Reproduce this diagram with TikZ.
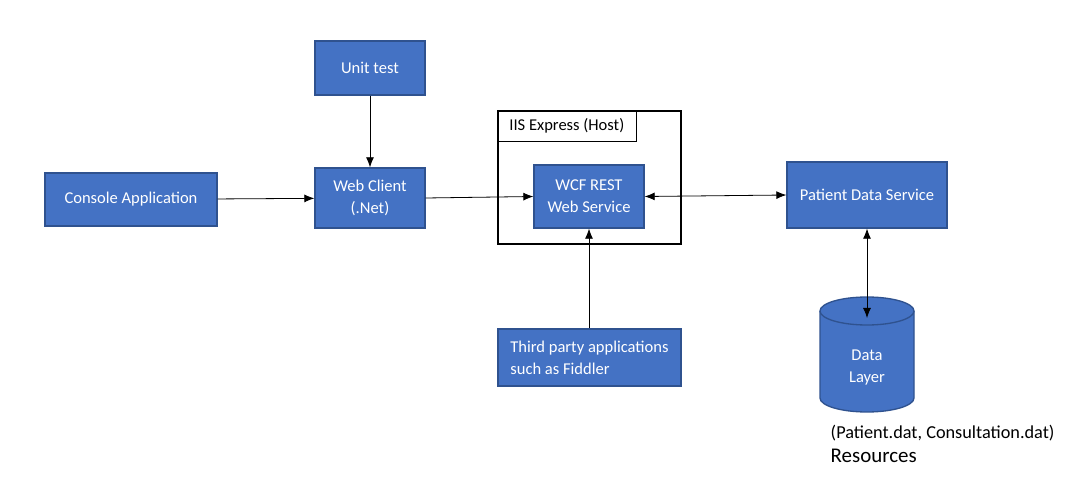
\documentclass[tikz,border=0pt]{standalone}
\usepackage{fontspec}
\setmainfont{Carlito}
\usetikzlibrary{arrows.meta,positioning}

\definecolor{boxblue}{HTML}{4472C4}
\definecolor{boxedge}{HTML}{2F528F}

\begin{document}
\begin{tikzpicture}[x=0.75pt, y=-0.75pt, font=\fontsize{12.4}{16.5}\selectfont]

% Styles
\tikzset{
  comp/.style={
    draw=boxedge,
    line width=1pt,
    fill=boxblue,
    text=white,
    rectangle,
    align=center,
    inner sep=0pt
  },
  host/.style={
    draw,
    line width=1.6pt,
    rectangle,
    inner sep=0pt
  },
  link/.style={
    -{Latex[length=7.5pt,width=6pt]},
    line width=0.6pt
  },
  twoway/.style={
    {Latex[length=7.5pt,width=6pt]}-{Latex[length=7.5pt,width=6pt]},
    line width=0.6pt
  }
}

\useasboundingbox (0,0) rectangle (1073,498);

% Host box
\node[host, minimum width=137.25pt, minimum height=99.75pt] (iis) at (589.5,177.5) {};
\node[draw, line width=0.6pt, anchor=north west, minimum width=104.25pt,
      minimum height=23.25pt, inner sep=0pt] (iislabel)
      at (iis.north west) {IIS Express (Host)};

% Components
\node[comp, minimum width=129pt, minimum height=39.75pt] (console) at (131,199.5) {Console Application};
\node[comp, minimum width=82.5pt, minimum height=45pt] (webclient) at (370,198) {Web Client\\(.Net)};
\node[comp, minimum width=82.5pt, minimum height=40.5pt] (unittest) at (370,68) {Unit test};
\node[comp, minimum width=82.5pt, minimum height=47.25pt] (wcf) at (589,196.5) {WCF REST\\Web Service};
\node[comp, minimum width=137.25pt, minimum height=42.75pt, align=left] (thirdparty)
      at (589.5,357.5) {Third party applications\\such as Fiddler};
\node[comp, minimum width=120pt, minimum height=49.5pt] (patient) at (867,195) {Patient Data Service};

% Data store (cylinder)
\fill[boxblue] (820,311) -- (820,398) arc[start angle=180, end angle=0, x radius=47, y radius=14]
  -- (914,311) arc[start angle=0, end angle=-180, x radius=47, y radius=14] -- cycle;
\draw[boxedge, line width=1pt] (820,311) -- (820,398) arc[start angle=180, end angle=0, x radius=47, y radius=14]
  -- (914,311) arc[start angle=0, end angle=-180, x radius=47, y radius=14];
\draw[boxedge, line width=1pt] (820,311) arc[start angle=180, end angle=0, x radius=47, y radius=14];
\coordinate (dltop) at (867,318);
\node[text=white, align=center] (datalayer) at (867,368) {Data\\Layer};

\node[anchor=west, font=\fontsize{13.7}{16}\selectfont] (restext) at (826,433) {(Patient.dat, Consultation.dat)};
\node[anchor=west, font=\fontsize{15.7}{18}\selectfont] (resources) at (826,456) {Resources};

% Connectors
\draw[link] (console) -- (webclient);
\draw[link] (unittest) -- (webclient);
\draw[link] (webclient.east) -- (wcf.west);
\draw[twoway] (wcf.east) -- (patient.west);
\draw[link] (thirdparty.north -| wcf.south) -- (wcf.south);
\draw[twoway] (patient.south) -- (dltop);

\end{tikzpicture}
\end{document}
